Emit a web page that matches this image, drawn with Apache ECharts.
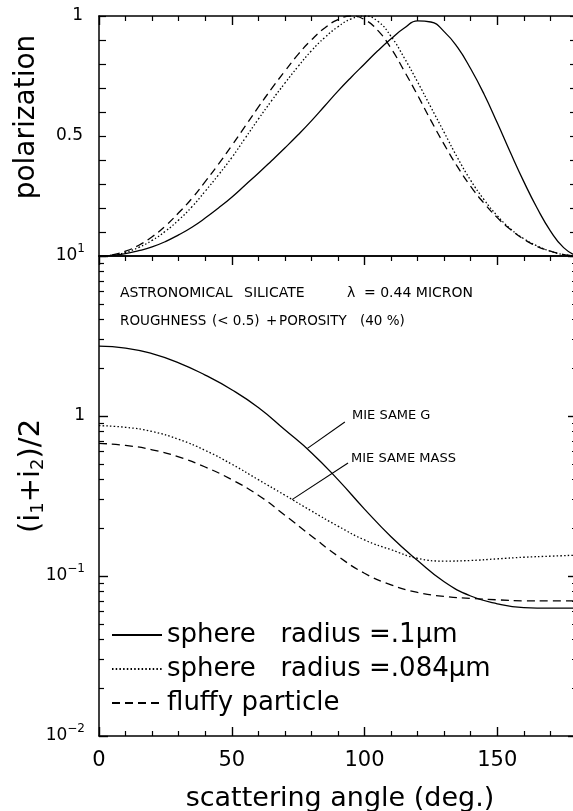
<!DOCTYPE html>
<html><head><meta charset="utf-8">
<script src="https://cdn.jsdelivr.net/npm/echarts@6/dist/echarts.min.js"></script>
<style>html,body{margin:0;padding:0;background:#fff}#c{width:573px;height:811px}</style>
</head><body><div id="c"></div>
<script>
// ---- data ----
const seriesNames = ['sphere   radius =.1\u03bcm', 'sphere   radius =.084\u03bcm', 'fluffy particle'];
const topAngles = [0,5,10,15,20,25,30,35,40,45,50,55,60,65,70,75,80,85,90,95,100,105,110,115,120,125,130,135,140,145,150,155,160,165,170,175,180];
const polSphere10  = [0,0.003,0.01,0.022,0.038,0.06,0.088,0.12,0.158,0.2,0.245,0.295,0.345,0.397,0.45,0.505,0.563,0.625,0.687,0.745,0.80,0.855,0.905,0.95,0.98,0.975,0.935,0.87,0.78,0.675,0.555,0.43,0.31,0.2,0.105,0.035,0];
const polSphere084 = [0,0.004,0.015,0.036,0.065,0.103,0.15,0.205,0.27,0.338,0.41,0.49,0.57,0.647,0.72,0.79,0.855,0.91,0.955,0.988,1.0,0.978,0.915,0.825,0.725,0.62,0.515,0.41,0.315,0.235,0.168,0.113,0.072,0.042,0.02,0.006,0];
const polFluffy    = [0,0.005,0.02,0.045,0.08,0.125,0.18,0.24,0.31,0.383,0.46,0.54,0.62,0.697,0.77,0.84,0.90,0.95,0.985,1.0,0.985,0.94,0.865,0.77,0.67,0.565,0.465,0.372,0.29,0.22,0.16,0.11,0.07,0.04,0.02,0.006,0];
const intAngles = [0,10,20,30,40,50,60,70,80,90,100,110,120,130,140,150,160,170,180];
const intSphere10  = [2.73,2.66,2.45,2.15,1.80,1.46,1.13,0.82,0.59,0.40,0.262,0.176,0.125,0.092,0.075,0.067,0.0635,0.063,0.063];
const intSphere084 = [0.87,0.85,0.80,0.715,0.61,0.50,0.40,0.32,0.255,0.205,0.168,0.146,0.129,0.124,0.125,0.128,0.131,0.133,0.135];
const intFluffy    = [0.675,0.655,0.615,0.555,0.48,0.40,0.32,0.24,0.178,0.133,0.104,0.088,0.079,0.0745,0.0725,0.071,0.070,0.070,0.070];
const xTickLabels = [0,50,100,150];
const polTickLabels = ['0.5','1'];
// leader lines (data coords: angle, intensity)
const leaderSameG    = [[92.6,0.917],[78.5,0.628]];
const leaderSameMass = [[93.8,0.508],[72.7,0.30]];

// ---- chart ----
const F = 'DejaVu Sans';
const K = '#000';
const chart = echarts.init(document.getElementById('c'), null, {renderer:'canvas'});

const tickMaj = {show:true, inside:true, length:9, lineStyle:{color:K, width:1.4}};
const tickMin = {show:true, inside:true, splitNumber:5, length:5, lineStyle:{color:K, width:1.2}};
const axLine = {show:true, onZero:false, lineStyle:{color:K, width:1.5}};

function xAx(gi, pos, opts) {
  return Object.assign({
    type:'value', gridIndex:gi, position:pos, min:0, max:200, interval:50,
    splitLine:{show:false}, axisLine:axLine,
    axisTick:tickMaj, minorTick:tickMin, axisLabel:{show:false}, nameMoveOverlap:false
  }, opts);
}

const xAxes = [
  xAx(0,'bottom',{axisTick:{show:false}, minorTick:{show:false}}),
  xAx(0,'top',{}),
  xAx(1,'top',{}),
  xAx(1,'bottom',{
    axisLabel:{show:true, margin:14, fontFamily:F, fontSize:21, color:K,
      formatter: v => xTickLabels.indexOf(v) >= 0 ? String(v) : ''},
    name:'scattering angle (deg.)', nameLocation:'middle', nameGap:49,
    nameTextStyle:{fontFamily:F, fontSize:27, color:K, padding:[0,49,0,0]}})
];

function logLabel(v) {
  const e = Math.round(Math.log10(v));
  if (e === 0) return '{b|1}';
  return '{b|10}{s|' + (e < 0 ? '\u2212' : '') + Math.abs(e) + '}';
}
const RIGHT_OFFSET = -53; // right frame sits at angle 180 (canvas edge)

const yAxes = [
  {type:'value', gridIndex:0, position:'left', min:0, max:1, interval:0.1,
   splitLine:{show:false}, axisLine:axLine,
   axisTick:{show:true, inside:true, length:7, lineStyle:{color:K, width:1.2}},
   axisLabel:{margin:16, fontFamily:F, fontSize:17, color:K,
     formatter: v => { const s = String(Math.round(v*10)/10); return polTickLabels.indexOf(s) >= 0 ? s : ''; }},
   name:'polarization', nameLocation:'middle', nameGap:58, nameMoveOverlap:false,
   nameTextStyle:{fontFamily:F, fontSize:28, color:K, padding:[0,0,0,38]}},
  {type:'value', gridIndex:0, position:'right', offset:RIGHT_OFFSET, min:0, max:1, interval:0.1,
   splitLine:{show:false}, axisLine:axLine,
   axisTick:{show:true, inside:true, length:7, lineStyle:{color:K, width:1.2}}, axisLabel:{show:false}},
  {type:'log', logBase:10, gridIndex:1, position:'left', min:0.01, max:10,
   splitLine:{show:false}, axisLine:axLine,
   axisTick:{show:true, inside:true, length:9, lineStyle:{color:K, width:1.4}},
   minorTick:{show:true, splitNumber:9, length:5, lineStyle:{color:K, width:1.2}},
   axisLabel:{margin:14, formatter:logLabel, rich:{
     b:{fontFamily:F, fontSize:17, color:K},
     s:{fontFamily:F, fontSize:12, color:K, verticalAlign:'top', padding:[0,0,14,0]}}},
   name:'{p|(i}{d|1}{p|+i}{d|2}{p|)/2}', nameLocation:'middle', nameGap:52, nameMoveOverlap:false,
   nameTextStyle:{padding:[0,0,0,40], rich:{
     p:{fontFamily:F, fontSize:29, color:K},
     d:{fontFamily:F, fontSize:18, color:K, verticalAlign:'bottom', padding:[14,0,0,0]}}}},
  {type:'log', logBase:10, gridIndex:1, position:'right', offset:RIGHT_OFFSET, min:0.01, max:10,
   splitLine:{show:false}, axisLine:axLine,
   axisTick:{show:true, inside:true, length:9, lineStyle:{color:K, width:1.4}},
   minorTick:{show:true, splitNumber:9, length:5, lineStyle:{color:K, width:1.2}},
   axisLabel:{show:false}}
];

const dashes = ['solid', [1.5,2.2], [8,5]];
function mk(name, xi, yi, xs, ys, dash, extra) {
  return Object.assign({
    type:'line', name:name, xAxisIndex:xi, yAxisIndex:yi,
    data: xs.map((x,i) => [x, ys[i]]),
    symbol:'none', smooth:true, clip:true, silent:true,
    lineStyle:{color:K, width:1.3, type:dash}, itemStyle:{color:K}
  }, extra || {});
}
function leader(pts) {
  return {silent:true, symbol:['none','none'], label:{show:false},
    lineStyle:{color:K, width:1.1, type:'solid'},
    data:[[{coord:pts[0]},{coord:pts[1]}]]};
}

const series = [
  mk(seriesNames[0], 0, 0, topAngles, polSphere10, dashes[0]),
  mk(seriesNames[1], 0, 0, topAngles, polSphere084, dashes[1]),
  mk(seriesNames[2], 0, 0, topAngles, polFluffy, dashes[2]),
  mk(seriesNames[0], 3, 2, intAngles, intSphere10, dashes[0], {markLine: leader(leaderSameG)}),
  mk(seriesNames[1], 3, 2, intAngles, intSphere084, dashes[1], {markLine: leader(leaderSameMass)}),
  mk(seriesNames[2], 3, 2, intAngles, intFluffy, dashes[2])
];

function txt(s, x, y, size) {
  return {type:'text', x:x, y:y, silent:true,
    style:{text:s, fontFamily:F, fontSize:size || 13, fill:K, verticalAlign:'middle', textVerticalAlign:'middle'}};
}

chart.setOption({
  animation:false,
  backgroundColor:'#fff',
  grid:[
    {left:99, width:531, top:16, height:240, containLabel:false, outerBoundsMode:'none'},
    {left:99, width:531, top:256, height:480, containLabel:false, outerBoundsMode:'none'}
  ],
  xAxis: xAxes,
  yAxis: yAxes,
  legend:{data:seriesNames, orient:'vertical', left:106, top:617, itemWidth:50, itemHeight:14, itemGap:8,
    selectedMode:false, itemStyle:{opacity:0},
    textStyle:{fontFamily:F, fontSize:26, color:K}},
  graphic:[
    txt('ASTRONOMICAL', 120, 293, 14),
    txt('SILICATE', 244, 293, 14),
    txt('\u03bb', 347, 293, 14),
    txt('= 0.44 MICRON', 364, 293, 14),
    txt('ROUGHNESS', 120, 321, 13.5),
    txt('(< 0.5)', 212, 321, 13.5),
    txt('+', 266, 321, 13.5),
    txt('POROSITY', 279, 321, 13.5),
    txt('(40 %)', 360, 321, 13.5),
    txt('MIE SAME G', 352, 416),
    txt('MIE SAME MASS', 351, 459)
  ],
  series: series
});
</script>
</body></html>
